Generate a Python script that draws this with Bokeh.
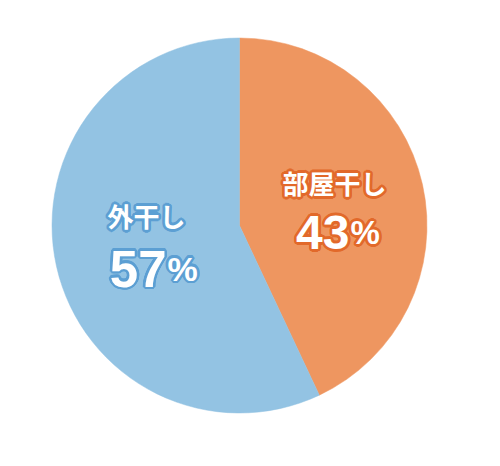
import math
from bokeh.plotting import figure
from bokeh.models import Range1d, ColumnDataSource
from bokeh.core.properties import value
from bokeh.embed import file_html
from bokeh.resources import INLINE

# data
categories = ["部屋干し", "外干し"]
shares = [43, 57]
colors = ["#EE9660", "#93C3E3"]
outline_colors = ["#E2692A", "#5C9FD3"]

W, H = 484, 450
p = figure(width=W, height=H, output_backend="svg", toolbar_location=None,
           x_range=Range1d(0, W), y_range=Range1d(-H, 0),
           min_border=0, outline_line_color=None)
p.axis.visible = False
p.grid.visible = False
p.background_fill_color = "white"
p.border_fill_color = "white"

cx, cy, r = 239, -225, 187.5

# wedges, clockwise from 12 o'clock
total = sum(shares)
starts, ends = [], []
acc = 0.0
for s in shares:
    a0 = math.pi / 2 - 2 * math.pi * acc / total
    acc += s
    a1 = math.pi / 2 - 2 * math.pi * acc / total
    starts.append(a0)
    ends.append(a1)

src = ColumnDataSource(dict(x=[cx] * len(shares), y=[cy] * len(shares),
                            start=starts, end=ends, color=colors, cat=categories))
p.wedge(x="x", y="y", radius=r, start_angle="start", end_angle="end",
        direction="clock", fill_color="color", line_color="color", line_width=0.5, source=src)

# label anchors relative to pie centre (page-pixel offsets, +y = down)
label_pos = [(95, -43), (-93, -10)]   # centre of the category text
num_pos = [(110, 7), (-73, 43)]       # join between number and % (baseline)
num_sizes = ["48px", "51px"]
pct_sizes = ["33px", "34px"]

cjk = value("Noto Sans CJK JP")
num_font = value("Liberation Sans")

ring = [(2.6 * math.cos(t * math.pi / 8), 2.6 * math.sin(t * math.pi / 8)) for t in range(16)]

def outlined(x, y, text, size, font, align, baseline, oc):
    for dx, dy in ring:
        p.text(x=[x], y=[y], text=[text], text_font=font, text_font_size=size,
               text_font_style="bold", text_align=align, text_baseline=baseline,
               text_color=oc, x_offset=dx, y_offset=dy)
    p.text(x=[x], y=[y], text=[text], text_font=font, text_font_size=size,
           text_font_style="bold", text_align=align, text_baseline=baseline,
           text_color="white")

for i, cat in enumerate(categories):
    lx, ly = cx + label_pos[i][0], cy - label_pos[i][1]
    outlined(lx, ly, cat, "26px", cjk, "center", "middle", outline_colors[i])
    nx, ny = cx + num_pos[i][0], cy - num_pos[i][1]
    outlined(nx, ny, str(shares[i]), num_sizes[i], num_font, "right", "alphabetic", outline_colors[i])
    outlined(nx + 1, ny, "%", pct_sizes[i], num_font, "left", "alphabetic", outline_colors[i])

open("out.html", "w").write(file_html(p, INLINE))
